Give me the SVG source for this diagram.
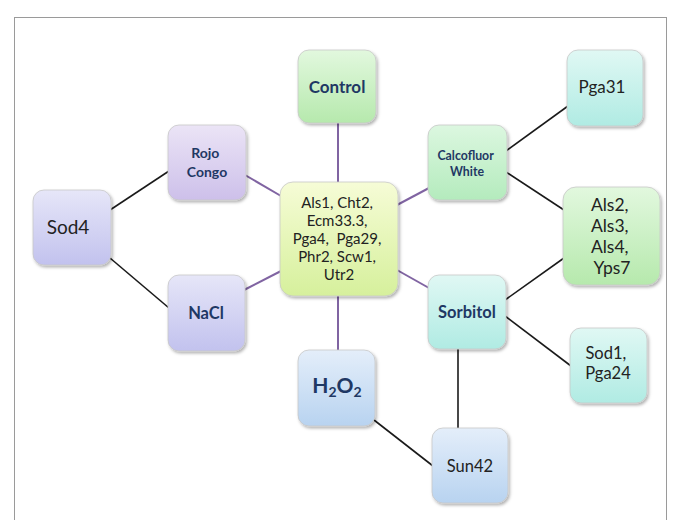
<svg xmlns="http://www.w3.org/2000/svg" width="680" height="520" viewBox="0 0 680 520">
  <defs>
    <linearGradient id="gGreen" x1="0" y1="0" x2="0" y2="1">
      <stop offset="0" stop-color="#e2f8de"/>
      <stop offset="1" stop-color="#b6e9ad"/>
    </linearGradient>
    <linearGradient id="gLime" x1="0" y1="0" x2="0" y2="1">
      <stop offset="0" stop-color="#f6fcd6"/>
      <stop offset="1" stop-color="#d6f09c"/>
    </linearGradient>
    <linearGradient id="gLilac" x1="0" y1="0" x2="0" y2="1">
      <stop offset="0" stop-color="#ebe4f6"/>
      <stop offset="1" stop-color="#cdc0ea"/>
    </linearGradient>
    <linearGradient id="gPeri" x1="0" y1="0" x2="0" y2="1">
      <stop offset="0" stop-color="#e6e6f8"/>
      <stop offset="1" stop-color="#c2c2ee"/>
    </linearGradient>
    <linearGradient id="gBlue" x1="0" y1="0" x2="0" y2="1">
      <stop offset="0" stop-color="#e4eefa"/>
      <stop offset="1" stop-color="#b8d3f0"/>
    </linearGradient>
    <linearGradient id="gCyan" x1="0" y1="0" x2="0" y2="1">
      <stop offset="0" stop-color="#e0f8f4"/>
      <stop offset="1" stop-color="#b0ebe3"/>
    </linearGradient>
    <linearGradient id="gMint" x1="0" y1="0" x2="0" y2="1">
      <stop offset="0" stop-color="#dcf7e0"/>
      <stop offset="1" stop-color="#b4ebbd"/>
    </linearGradient>
    <filter id="shadow" x="-20%" y="-20%" width="140%" height="140%">
      <feDropShadow dx="1.5" dy="2" stdDeviation="1.5" flood-color="#000" flood-opacity="0.3"/>
    </filter>
  </defs>
  <style>
    .frame { fill: #ffffff; stroke: #9a9a9a; stroke-width: 1; }
    .box { stroke: #c8c8c8; stroke-width: 0.8; filter: url(#shadow); }
    .lbl { font-family: Lato, "Open Sans", "Liberation Sans", sans-serif; text-anchor: middle; }
    .bold { font-weight: bold; fill: #1f3864; }
    .reg { fill: #222222; }
    .purple { stroke: #8064a2; stroke-width: 2; fill: none; }
    .black { stroke: #1a1a1a; stroke-width: 1.6; fill: none; }
  </style>

  <rect class="frame" x="14.5" y="17.5" width="652" height="520"/>

  <!-- connectors -->
  <g id="connectors">
    <line class="purple" x1="338" y1="123" x2="338" y2="182"/>
    <line class="purple" x1="338" y1="296" x2="338" y2="350"/>
    <line class="purple" x1="245" y1="175" x2="281" y2="196"/>
    <line class="purple" x1="281" y1="271" x2="244" y2="290"/>
    <line class="purple" x1="397" y1="205" x2="429" y2="188"/>
    <line class="purple" x1="397" y1="270" x2="429" y2="288"/>
    <line class="black" x1="110" y1="210" x2="169" y2="171"/>
    <line class="black" x1="110" y1="258" x2="169" y2="308"/>
    <line class="black" x1="506" y1="151" x2="568" y2="106"/>
    <line class="black" x1="506" y1="172" x2="564" y2="210"/>
    <line class="black" x1="505" y1="300" x2="564" y2="258"/>
    <line class="black" x1="505" y1="316" x2="571" y2="366"/>
    <line class="black" x1="458" y1="348" x2="458" y2="428"/>
    <line class="black" x1="374" y1="420" x2="433" y2="466"/>
  </g>

  <!-- nodes -->
  <g id="node-center">
    <rect class="box" x="280" y="182" width="118" height="114" rx="13" fill="url(#gLime)"/>
    <text class="lbl reg" font-size="15">
      <tspan x="339" y="208">Als1, Cht2,</tspan>
      <tspan x="339" y="226">Ecm33.3,</tspan>
      <tspan x="339" y="244">Pga4,&#160; Pga29,</tspan>
      <tspan x="339" y="262">Phr2, Scw1,</tspan>
      <tspan x="339" y="280">Utr2</tspan>
    </text>
  </g>

  <g id="node-control">
    <rect class="box" x="298" y="50" width="78" height="73" rx="11" fill="url(#gGreen)"/>
    <text class="lbl bold" x="337" y="93" font-size="17">Control</text>
  </g>

  <g id="node-rojo-congo">
    <rect class="box" x="168" y="125" width="78" height="75" rx="11" fill="url(#gLilac)"/>
    <text class="lbl bold" font-size="14">
      <tspan x="207" y="158">Rojo</tspan>
      <tspan x="207" y="177">Congo</tspan>
    </text>
  </g>

  <g id="node-calcofluor">
    <rect class="box" x="428" y="125" width="79" height="75" rx="11" fill="url(#gMint)"/>
    <text class="lbl bold" font-size="12.3">
      <tspan x="467" y="160">Calcofluor</tspan>
      <tspan x="467" y="176">White</tspan>
    </text>
  </g>

  <g id="node-sod4">
    <rect class="box" x="33" y="190" width="78" height="75" rx="11" fill="url(#gPeri)"/>
    <text class="lbl reg" x="68" y="234" font-size="19">Sod4</text>
  </g>

  <g id="node-nacl">
    <rect class="box" x="168" y="275" width="77" height="76" rx="11" fill="url(#gPeri)"/>
    <text class="lbl bold" x="206" y="319" font-size="16.5">NaCl</text>
  </g>

  <g id="node-h2o2">
    <rect class="box" x="298" y="350" width="77" height="76" rx="11" fill="url(#gBlue)"/>
    <text class="lbl bold" x="337" y="393" font-size="21">H<tspan font-size="14" dy="4">2</tspan><tspan dy="-4">O</tspan><tspan font-size="14" dy="4">2</tspan></text>
  </g>

  <g id="node-sun42">
    <rect class="box" x="432" y="428" width="76" height="75" rx="11" fill="url(#gBlue)"/>
    <text class="lbl reg" x="470" y="472" font-size="16.5">Sun42</text>
  </g>

  <g id="node-sorbitol">
    <rect class="box" x="428" y="275" width="78" height="74" rx="11" fill="url(#gCyan)"/>
    <text class="lbl bold" x="467" y="318" font-size="16.5">Sorbitol</text>
  </g>

  <g id="node-pga31">
    <rect class="box" x="567" y="50" width="76" height="76" rx="11" fill="url(#gCyan)"/>
    <text class="lbl reg" x="602" y="93" font-size="17">Pga31</text>
  </g>

  <g id="node-als">
    <rect class="box" x="563" y="187" width="97" height="98" rx="13" fill="url(#gGreen)"/>
    <text class="lbl reg" font-size="17.5">
      <tspan x="612" y="211">Als2,</tspan>
      <tspan x="612" y="232">Als3,</tspan>
      <tspan x="612" y="253">Als4,</tspan>
      <tspan x="612" y="274">Yps7</tspan>
    </text>
  </g>

  <g id="node-sod1">
    <rect class="box" x="570" y="328" width="77" height="75" rx="11" fill="url(#gCyan)"/>
    <text class="lbl reg" font-size="16.5">
      <tspan x="608" y="359">Sod1,</tspan>
      <tspan x="608" y="379">Pga24</tspan>
    </text>
  </g>
</svg>
